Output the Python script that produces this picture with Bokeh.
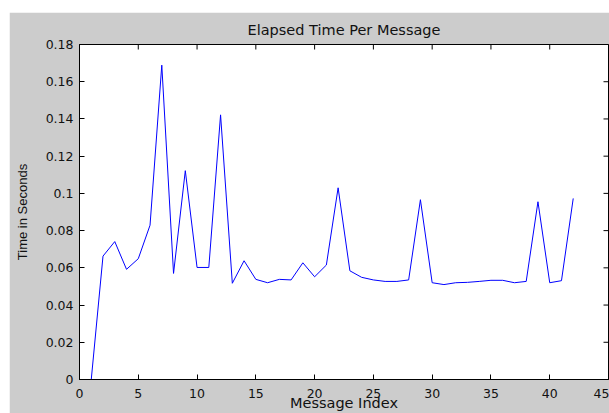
from bokeh.plotting import figure
from bokeh.models import FixedTicker, Range1d, Spacer
from bokeh.layouts import row, column
from bokeh.embed import file_html
from bokeh.resources import INLINE

# Data
message_index = list(range(1, 43))
elapsed_time = [
    0.0, 0.0663, 0.0741, 0.0592, 0.0649, 0.0829, 0.1689, 0.0570, 0.1122, 0.0602,
    0.0602, 0.1422, 0.0517, 0.0638, 0.0538, 0.0520, 0.0538, 0.0535, 0.0627, 0.0552,
    0.0615, 0.1030, 0.0584, 0.0549, 0.0535, 0.0527, 0.0527, 0.0535, 0.0966, 0.0520,
    0.0510, 0.0520, 0.0522, 0.0527, 0.0533, 0.0533, 0.0520, 0.0527, 0.0955, 0.0520,
    0.0531, 0.0973,
]
x_ticks = [0, 5, 10, 15, 20, 25, 30, 35, 40, 45]
y_ticks = [0, 0.02, 0.04, 0.06, 0.08, 0.1, 0.12, 0.14, 0.16, 0.18]
y_tick_labels = ["0", "0.02", "0.04", "0.06", "0.08", "0.1", "0.12", "0.14", "0.16", "0.18"]
x_min, x_max = 0, 45
y_min, y_max = 0, 0.18

FONT = "DejaVu Sans"
FONT_ROT = "Liberation Sans"
GRAY = "#cccccc"
TXT = "#111111"

p = figure(width=600, height=401, output_backend="svg", toolbar_location=None,
           x_range=Range1d(x_min, x_max), y_range=Range1d(y_min, y_max),
           title="Elapsed Time Per Message",
           min_border_left=70, min_border_right=1, min_border_top=32, min_border_bottom=34)
p.background_fill_color = "white"
p.border_fill_color = GRAY
p.outline_line_color = "black"
p.outline_line_width = 1
p.grid.visible = False

p.title.align = "center"
p.title.text_font = FONT
p.title.text_font_size = "14.5px"
p.title.text_font_style = "normal"
p.title.text_color = TXT
p.title.standoff = 14

p.line(message_index, elapsed_time, line_color="#0000ff", line_width=1)

# inward ticks on the top and right edges (half of each dash is clipped by the frame)
p.scatter(x_ticks, [y_max] * len(x_ticks), marker="dash", angle=1.5707963, size=10,
          line_color="black", line_width=1)
p.scatter([x_max] * len(y_ticks), y_ticks, marker="dash", size=10,
          line_color="black", line_width=1)

def style_axis(ax):
    ax.axis_line_color = "black"
    ax.major_tick_in = 5
    ax.major_tick_out = 0
    ax.minor_tick_in = 0
    ax.minor_tick_out = 0
    ax.major_tick_line_color = "black"
    ax.major_label_text_font = FONT
    ax.major_label_text_font_size = "12.5px"
    ax.major_label_text_color = TXT
    ax.axis_label_text_font_style = "normal"
    ax.axis_label_text_color = TXT

xax = p.xaxis[0]
xax.ticker = FixedTicker(ticks=x_ticks)
xax.axis_label = "Message Index"
style_axis(xax)
xax.axis_label_text_font = FONT
xax.axis_label_text_font_size = "14.5px"
xax.major_label_standoff = 9
xax.axis_label_standoff = -6

yax = p.yaxis[0]
yax.ticker = FixedTicker(ticks=y_ticks)
yax.major_label_overrides = {t: l for t, l in zip(y_ticks, y_tick_labels)}
yax.axis_label = "Time in Seconds"
style_axis(yax)
yax.axis_label_text_font = FONT_ROT
yax.axis_label_text_font_size = "13px"
yax.major_label_standoff = 6
yax.axis_label_standoff = 13

layout = row(Spacer(width=9, height=413),
             column(Spacer(width=600, height=12), p))

open("out.html", "w").write(file_html(layout, INLINE))
